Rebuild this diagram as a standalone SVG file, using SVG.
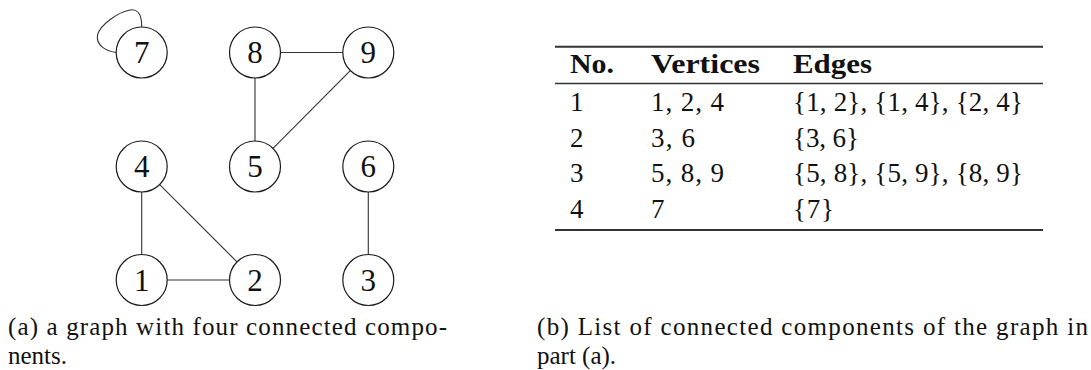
<svg xmlns="http://www.w3.org/2000/svg" width="1091" height="370" viewBox="0 0 1091 370">
<style>
.node circle{fill:#fff;stroke:#1a1a1a;stroke-width:1.2}
.node text{font-family:"Liberation Serif","Times New Roman","DejaVu Serif","Noto Serif",serif;font-size:31px;fill:#111;text-anchor:middle}
.edge{stroke:#333;stroke-width:1.1;fill:none}
.t{font-family:"Liberation Serif","Times New Roman","DejaVu Serif","Noto Serif",serif;font-size:27px;fill:#111}
.h{font-family:"Liberation Serif","Times New Roman","DejaVu Serif","Noto Serif",serif;font-size:27px;font-weight:bold;fill:#111}
.cap{font-family:"Liberation Serif","Times New Roman","DejaVu Serif","Noto Serif",serif;font-size:25px;fill:#111}
.rule{stroke:#333}
</style>
<rect width="1091" height="370" fill="#fff"/>
<g id="connectors">
<path class="edge" d="M141.7,27 C142,12 136,9 130,10 C118,12 100,25 97.5,35 C96,45 105,51 116.2,52.5"/>
<line class="edge" x1="280.5" y1="52.5" x2="342.8" y2="52.5"/>
<line class="edge" x1="255" y1="78" x2="255" y2="141"/>
<line class="edge" x1="350.3" y1="70.6" x2="273" y2="148.4"/>
<line class="edge" x1="141.7" y1="192" x2="141.7" y2="254.5"/>
<line class="edge" x1="159.7" y1="184.6" x2="237" y2="261.9"/>
<line class="edge" x1="167.2" y1="280" x2="229.5" y2="280"/>
<line class="edge" x1="368.3" y1="192" x2="368.3" y2="254.5"/>
</g>
<g id="n7" class="node"><circle cx="141.7" cy="52.5" r="25.5"/><text x="141.7" y="63">7</text></g>
<g id="n8" class="node"><circle cx="255" cy="52.5" r="25.5"/><text x="255" y="63">8</text></g>
<g id="n9" class="node"><circle cx="368.3" cy="52.5" r="25.5"/><text x="368.3" y="63">9</text></g>
<g id="n4" class="node"><circle cx="141.7" cy="166.5" r="25.5"/><text x="141.7" y="177">4</text></g>
<g id="n5" class="node"><circle cx="255" cy="166.5" r="25.5"/><text x="255" y="177">5</text></g>
<g id="n6" class="node"><circle cx="368.3" cy="166.5" r="25.5"/><text x="368.3" y="177">6</text></g>
<g id="n1" class="node"><circle cx="141.7" cy="280" r="25.5"/><text x="141.7" y="290.5">1</text></g>
<g id="n2" class="node"><circle cx="255" cy="280" r="25.5"/><text x="255" y="290.5">2</text></g>
<g id="n3" class="node"><circle cx="368.3" cy="280" r="25.5"/><text x="368.3" y="290.5">3</text></g>
<g id="table">
<line class="rule" x1="555" y1="46.7" x2="1043" y2="46.7" stroke-width="2"/>
<line class="rule" x1="555" y1="83.5" x2="1043" y2="83.5" stroke-width="1.3"/>
<line class="rule" x1="555" y1="230" x2="1043" y2="230" stroke-width="2"/>
<text class="h" x="570" y="73" textLength="44" lengthAdjust="spacingAndGlyphs">No.</text>
<text class="h" x="651" y="73" textLength="109" lengthAdjust="spacingAndGlyphs">Vertices</text>
<text class="h" x="793" y="73" textLength="79" lengthAdjust="spacingAndGlyphs">Edges</text>
<text class="t" x="570" y="110.5">1</text>
<text class="t" x="651" y="110.5" textLength="73">1, 2, 4</text>
<text class="t" x="793" y="110.5" textLength="230">{1, 2}, {1, 4}, {2, 4}</text>
<text class="t" x="570" y="146.5">2</text>
<text class="t" x="651" y="146.5" textLength="44">3, 6</text>
<text class="t" x="793" y="146.5" textLength="66">{3, 6}</text>
<text class="t" x="570" y="182">3</text>
<text class="t" x="651" y="182" textLength="73">5, 8, 9</text>
<text class="t" x="793" y="182" textLength="230">{5, 8}, {5, 9}, {8, 9}</text>
<text class="t" x="570" y="218">4</text>
<text class="t" x="651" y="218">7</text>
<text class="t" x="793" y="218" textLength="41">{7}</text>
</g>
<g id="captions">
<text class="cap" x="8" y="335" textLength="439">(a) a graph with four connected compo-</text>
<text class="cap" x="8" y="364">nents.</text>
<text class="cap" x="537" y="335" textLength="551">(b) List of connected components of the graph in</text>
<text class="cap" x="537" y="364">part (a).</text>
</g>
</svg>
